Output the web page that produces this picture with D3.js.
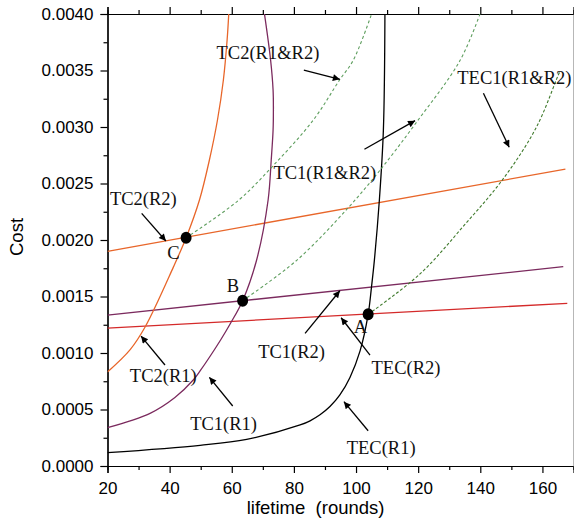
<!DOCTYPE html>
<html><head><meta charset="utf-8">
<script src="https://cdn.jsdelivr.net/npm/d3@7"></script>
<style>body{margin:0;background:#fff}svg{display:block}</style>
</head><body><svg id="c" width="574" height="525"></svg>
<script>
// ---------- data ----------
const xDomain = [20, 170];
const yDomain = [0, 0.004];
const xMajorTicks = [20, 40, 60, 80, 100, 120, 140, 160];
const xMinorTicks = [30, 50, 70, 90, 110, 130, 150];
const yMajorTicks = [0, 0.0005, 0.001, 0.0015, 0.002, 0.0025, 0.003, 0.0035, 0.004];
const yMinorTicks = [0.00025, 0.00075, 0.00125, 0.00175, 0.00225, 0.00275, 0.00325, 0.00375];
const xTitle = "lifetime  (rounds)";
const yTitle = "Cost";

// curves (lifetime, cost)
const tecR1 = [[20,0.000118],[49.8,0.000183],[64.8,0.000236],[82,0.000363],[85.2,0.0004],[88.4,0.000453],[91.6,0.000526],[94.8,0.000629],[98.05,0.000784],[101.3,0.001019],[103.9,0.001342],[105,0.00159],[105.9,0.00182],[107.5,0.00235],[108.8,0.00297],[109.3,0.004]];
const tc1R1 = [[20,0.000339],[33.7,0.000466],[41.7,0.000606],[47.6,0.000761],[49.8,0.000841],[56.4,0.001115],[59.6,0.001263],[63.5,0.001463],[68,0.001823],[71.7,0.002354],[72.7,0.002708],[73.3,0.002973],[73.4,0.00315],[73.3,0.003327],[72.5,0.003593],[70.5,0.004006]];
const tc2R1 = [[20,0.000832],[27.3,0.00103],[32.1,0.00123],[41.2,0.00176],[45.3,0.00202],[49.6,0.002354],[52.8,0.002708],[55.4,0.003062],[57.3,0.003416],[58.5,0.00377],[59.1,0.004035]];
// straight lines (R2)
const tecR2 = [[20,0.00122],[168,0.00144]];
const tc1R2 = [[20,0.001336],[166.7,0.001764]];
const tc2R2 = [[20,0.0019],[167.4,0.002627]];
// dashed combined curves (R1&R2)
const tc2R1R2 = [[45.3,0.00202],[62.1,0.00235],[73.4,0.00266],[86.2,0.00306],[94.8,0.00342],[99.1,0.00359],[105,0.004]];
const tc1R1R2 = [[63.5,0.001463],[80.9,0.00182],[97.4,0.002283],[107.25,0.002602],[119.6,0.003047],[133.5,0.00359],[139.9,0.004]];
const tec1R1R2 = [[103.9,0.001342],[120.6,0.0017],[134.5,0.00212],[147.6,0.00255],[158.1,0.003],[165.1,0.00346],[165.8,0.0035]];
// optimum points
const optPoints = [{name:"A", x:103.9, y:0.001342},{name:"B", x:63.5, y:0.001463},{name:"C", x:45.3, y:0.00202}];
// annotation labels (data coords of text start / baseline)
const labels = [
  {t:"TC2(R1&R2)", x:55.1, y:0.003602},
  {t:"TC1(R1&R2)", x:73.4, y:0.00254},
  {t:"TEC1(R1&R2)", x:132.6, y:0.00338},
  {t:"TC2(R2)", x:20.8, y:0.00231},
  {t:"C", x:39.2, y:0.001832},
  {t:"B", x:58.4, y:0.00154},
  {t:"A", x:99.3, y:0.001177},
  {t:"TC2(R1)", x:27.2, y:0.000743},
  {t:"TC1(R1)", x:46.6, y:0.000319},
  {t:"TC1(R2)", x:68.5, y:0.000956},
  {t:"TEC(R2)", x:105.0, y:0.000814},
  {t:"TEC(R1)", x:97.0, y:0.000106}
];
const arrows = [
  [83.2,0.003504,94.8,0.003422],
  [102.7,0.002803,119.0,0.003056],
  [141.0,0.003298,149.3,0.00282],
  [31.0,0.002236,38.8,0.001991],
  [38.5,0.000894,30.8,0.00115],
  [60.3,0.000531,52.8,0.000785],
  [83.6,0.001174,94.8,0.001551],
  [104.5,0.000982,95.2,0.001312],
  [103.9,0.000312,96.1,0.000569]
];

// ---------- drawing ----------
const svg = d3.select("#c");
const x = d3.scaleLinear().domain(xDomain).range([107.5, 573.5]);
const y = d3.scaleLinear().domain(yDomain).range([466, 14]);

const defs = svg.append("defs");
defs.append("clipPath").attr("id","clip").append("rect")
  .attr("x",107.5).attr("y",14).attr("width",466).attr("height",452);
defs.append("marker").attr("id","ah").attr("viewBox","0 0 10 10")
  .attr("refX",10).attr("refY",5).attr("markerWidth",10).attr("markerHeight",7)
  .attr("markerUnits","userSpaceOnUse").attr("orient","auto")
  .append("path").attr("d","M0,0L10,5L0,10z").attr("fill","#000");

const sans = "'Liberation Sans', Arial, sans-serif";
const serif = "'Liberation Serif', 'Times New Roman', serif";

function styleAxis(g){
  g.select(".domain").attr("stroke","#000").attr("stroke-width",1.2);
  g.selectAll(".tick line").attr("stroke","#000").attr("stroke-width",1.2);
  g.selectAll("text").attr("font-family",sans).attr("font-size",17).attr("fill","#000");
}
// left
svg.append("g").attr("transform","translate(107.5,0)")
  .call(d3.axisLeft(y).tickValues(yMinorTicks).tickSize(4).tickFormat("")).call(styleAxis);
svg.append("g").attr("transform","translate(107.5,0)")
  .call(d3.axisLeft(y).tickValues(yMajorTicks).tickSize(7).tickPadding(7).tickFormat(d3.format(".4f"))).call(styleAxis);
// bottom
svg.append("g").attr("transform","translate(0,466)")
  .call(d3.axisBottom(x).tickValues(xMinorTicks).tickSize(4).tickFormat("")).call(styleAxis);
svg.append("g").attr("transform","translate(0,466)")
  .call(d3.axisBottom(x).tickValues(xMajorTicks).tickSize(7).tickPadding(9)).call(styleAxis);
// top
svg.append("g").attr("transform","translate(0,14)")
  .call(d3.axisTop(x).tickValues(xMinorTicks).tickSize(4).tickFormat("")).call(styleAxis);
svg.append("g").attr("transform","translate(0,14)")
  .call(d3.axisTop(x).tickValues(xMajorTicks).tickSize(7).tickFormat("")).call(styleAxis);
// right
svg.append("g").attr("transform","translate(573.5,0)")
  .call(d3.axisRight(y).tickValues([]).tickSize(0)).call(styleAxis)
  .select(".domain").attr("stroke","#888");

// titles
svg.append("text").attr("x",246.7).attr("y",514).attr("font-family",sans).attr("font-size",18.5)
  .attr("xml:space","preserve").style("white-space","pre").text(xTitle);
svg.append("text").attr("transform","translate(23,237) rotate(-90)").attr("text-anchor","middle")
  .attr("font-family",sans).attr("font-size",18.5).text(yTitle);

// series
const plot = svg.append("g").attr("clip-path","url(#clip)");
const curveLine = d3.line().x(d=>x(d[0])).y(d=>y(d[1])).curve(d3.curveCatmullRom.alpha(0.5));
const straight = d3.line().x(d=>x(d[0])).y(d=>y(d[1]));
const series = [
  {d:tecR2, c:"#d42a2a", gen:straight},
  {d:tc1R2, c:"#7b2a5e", gen:straight},
  {d:tc2R2, c:"#e8662a", gen:straight},
  {d:tecR1, c:"#000000", gen:curveLine},
  {d:tc1R1, c:"#7b2a5e", gen:curveLine},
  {d:tc2R1, c:"#e8662a", gen:curveLine},
  {d:tc2R1R2, c:"#5e9e5e", gen:curveLine, dash:"3,2.5", w:1.1},
  {d:tc1R1R2, c:"#5e9e5e", gen:curveLine, dash:"3,2.5", w:1.1},
  {d:tec1R1R2, c:"#3f7a2c", gen:curveLine, dash:"3,2", w:1.1}
];
series.forEach(s=>{
  plot.append("path").attr("d",s.gen(s.d)).attr("fill","none").attr("stroke",s.c)
    .attr("stroke-width",s.w||1.3).attr("stroke-dasharray",s.dash||null);
});

// points
plot.selectAll("ellipse").data(optPoints).join("ellipse")
  .attr("cx",d=>x(d.x)).attr("cy",d=>y(d.y)).attr("rx",5.5).attr("ry",6).attr("fill","#000");

// arrows
svg.append("g").selectAll("line").data(arrows).join("line")
  .attr("x1",d=>x(d[0])).attr("y1",d=>y(d[1])).attr("x2",d=>x(d[2])).attr("y2",d=>y(d[3]))
  .attr("stroke","#000").attr("stroke-width",1.3).attr("marker-end","url(#ah)");

// labels
svg.append("g").selectAll("text").data(labels).join("text")
  .attr("x",d=>x(d.x)).attr("y",d=>y(d.y)).attr("font-family",serif).attr("font-size",18.5)
  .attr("fill","#111").text(d=>d.t);
</script></body></html>
